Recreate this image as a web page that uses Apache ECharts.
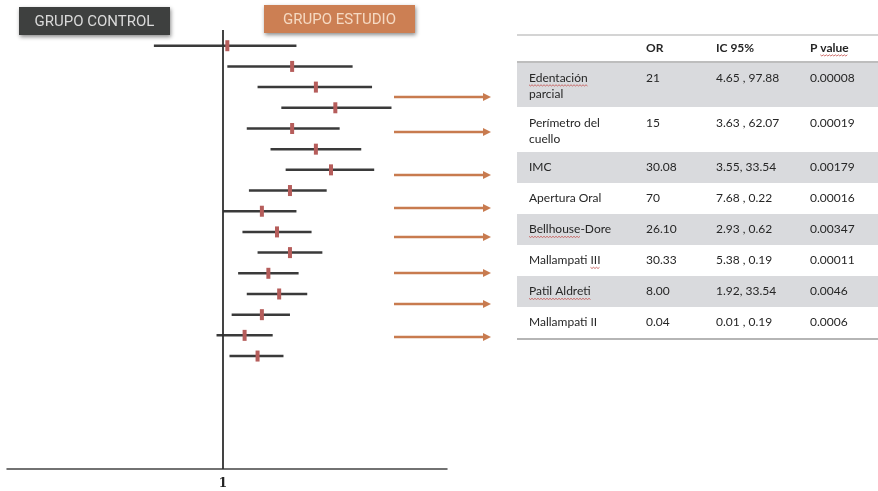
<!DOCTYPE html>
<html>
<head>
<meta charset="utf-8">
<script src="https://cdn.jsdelivr.net/npm/echarts@6/dist/echarts.min.js"></script>
<style>
html, body { margin: 0; padding: 0; background: #fff; }
#chart { width: 878px; height: 491px; }
</style>
</head>
<body>
<div id="chart"></div>
<script>
// forest plot, filas de arriba a abajo (1 = sin efecto)
const rows = [1, 2, 3, 4, 5, 6, 7, 8, 9, 10, 11, 12, 13, 14, 15, 16]
const lowValues = [0.68, 1.02, 1.16, 1.27, 1.11, 1.22, 1.29, 1.12, 1.00, 1.09, 1.16, 1.07, 1.11, 1.04, 0.97, 1.03]
const midValues = [1.02, 1.32, 1.43, 1.52, 1.32, 1.43, 1.50, 1.31, 1.18, 1.25, 1.31, 1.21, 1.26, 1.18, 1.10, 1.16]
const highValues = [1.34, 1.60, 1.69, 1.78, 1.54, 1.64, 1.70, 1.48, 1.34, 1.41, 1.46, 1.35, 1.39, 1.31, 1.23, 1.28]
const xTicks = [1]

// tabla
const tableHeader = ['', 'OR', 'IC 95%', 'P value']
const tableLabels = [['Edentación', 'parcial'], ['Perímetro del', 'cuello'], ['IMC'], ['Apertura Oral'],
  ['Bellhouse-Dore'], ['Mallampati III'], ['Patil Aldreti'], ['Mallampati II']]
const orValues = ['21', '15', '30.08', '70', '26.10', '30.33', '8.00', '0.04']
const ciValues = ['4.65 , 97.88', '3.63 , 62.07', '3.55, 33.54', '7.68 , 0.22', '2.93 , 0.62', '5.38 , 0.19', '1.92, 33.54', '0.01 , 0.19']
const pValues = ['0.00008', '0.00019', '0.00179', '0.00016', '0.00347', '0.00011', '0.0046', '0.0006']

const chart = echarts.init(document.getElementById('chart'))
const graphic = []
const measure = document.createElement('canvas').getContext('2d')

// botones de grupo
function button(x, y, w, h, fill, color, label) {
  graphic.push({
    type: 'rect',
    shape: { x: x, y: y, width: w, height: h },
    style: { fill: fill, shadowBlur: 4, shadowColor: 'rgba(0,0,0,0.45)', shadowOffsetX: 1, shadowOffsetY: 2 }
  })
  graphic.push({
    type: 'text',
    x: x + w / 2,
    y: y + h / 2 + 1,
    style: { text: label, fill: color, font: '15px Roboto', align: 'center', verticalAlign: 'middle' }
  })
}
button(19, 7, 151, 28, '#3e403f', '#dadada', 'GRUPO CONTROL')
button(264, 5, 151, 28, '#cc7f53', '#f5d9c2', 'GRUPO ESTUDIO')

// flechas
const arrowsY = [97, 132, 175, 208, 237, 273, 304, 337]
arrowsY.forEach(function (ay) {
  graphic.push({
    type: 'line',
    shape: { x1: 394, y1: ay, x2: 485, y2: ay },
    style: { stroke: '#c87b4f', lineWidth: 2.5 }
  })
  graphic.push({
    type: 'polygon',
    shape: { points: [[483, ay - 4], [491, ay], [483, ay + 4]] },
    style: { fill: '#c87b4f' }
  })
})

// subrayado ondulado del corrector, bajo la parte "word" de "text"
function squiggle(x0, ty, text, word, font) {
  measure.font = font
  const start = x0 + measure.measureText(text.slice(0, text.indexOf(word))).width
  const end = start + measure.measureText(word).width
  const pts = []
  for (let x = start, k = 0; x <= end; x += 1.5, k++) pts.push([x, ty + 7 + (k % 2 ? 1 : -0.2)])
  graphic.push({ type: 'polyline', shape: { points: pts }, style: { stroke: '#c4504c', lineWidth: 0.8 }, z: 5 })
}

// tabla
const colX = [529, 646, 716, 810]
const tableLeft = 517
const tableWidth = 361
const textStyle = '12px Lato'
graphic.push({ type: 'line', shape: { x1: tableLeft, y1: 35, x2: 878, y2: 35 }, style: { stroke: '#a9a9a9', lineWidth: 1 } })
tableHeader.forEach(function (t, c) {
  graphic.push({
    type: 'text', x: colX[c], y: 48,
    style: { text: t, fill: '#262626', font: 'bold 12px Lato', verticalAlign: 'middle' }
  })
})
squiggle(colX[3], 48, 'P value', 'value', 'bold 12px Lato')
const marked = { 'Edentación': 'Edentación', 'Bellhouse-Dore': 'Bellhouse', 'Mallampati III': 'III', 'Patil Aldreti': 'Patil Aldreti' }
let y = 62
tableLabels.forEach(function (lab, i) {
  const h = lab.length > 1 ? 45 : 31
  if (i % 2 === 0) {
    graphic.push({
      type: 'rect', shape: { x: tableLeft, y: y, width: tableWidth, height: h },
      style: { fill: '#d9dadd' }
    })
  }
  const firstY = lab.length > 1 ? y + 16 : y + h / 2
  lab.forEach(function (t, k) {
    graphic.push({
      type: 'text', x: colX[0], y: firstY + k * 16,
      style: { text: t, fill: '#262626', font: textStyle, verticalAlign: 'middle' }
    })
    if (marked[t]) squiggle(colX[0], firstY + k * 16, t, marked[t], textStyle)
  })
  ;[orValues[i], ciValues[i], pValues[i]].forEach(function (t, c) {
    graphic.push({
      type: 'text', x: colX[c + 1], y: firstY,
      style: { text: t, fill: '#262626', font: textStyle, verticalAlign: 'middle' }
    })
  })
  y += h
})
graphic.push({ type: 'line', shape: { x1: tableLeft, y1: 62, x2: 878, y2: 62 }, style: { stroke: '#bdbdbd', lineWidth: 2 } })
graphic.push({ type: 'line', shape: { x1: tableLeft, y1: y + 1, x2: 878, y2: y + 1 }, style: { stroke: '#b5b5b5', lineWidth: 2 } })

const option = {
  animation: false,
  grid: { left: 7, right: 431, top: 30, bottom: 22 },
  xAxis: {
    type: 'value',
    min: 0,
    max: 2.037,
    splitLine: { show: false },
    axisTick: { show: false },
    axisLine: { show: true, lineStyle: { color: '#444', width: 1.5 } },
    axisLabel: {
      customValues: xTicks,
      margin: 9,
      color: '#222',
      fontFamily: 'DejaVu Serif',
      fontWeight: 'bold',
      fontSize: 12
    }
  },
  yAxis: {
    type: 'value',
    inverse: true,
    min: 0.24,
    max: 21.46,
    show: false
  },
  graphic: graphic,
  series: [
    {
      type: 'custom',
      renderItem: function (params, api) {
        const row = api.value(0)
        const p1 = api.coord([api.value(1), row])
        const p2 = api.coord([api.value(3), row])
        const pm = api.coord([api.value(2), row])
        return {
          type: 'group',
          children: [
            { type: 'line', shape: { x1: p1[0], y1: p1[1], x2: p2[0], y2: p2[1] }, style: { stroke: '#3a3a3a', lineWidth: 2.5 } },
            { type: 'rect', shape: { x: pm[0] - 2, y: pm[1] - 5.5, width: 4, height: 11 }, style: { fill: '#b65d5b' } }
          ]
        }
      },
      encode: { x: [1, 2, 3], y: 0 },
      data: rows.map(function (r, i) { return [r, lowValues[i], midValues[i], highValues[i]] })
    },
    {
      // linea de no efecto
      type: 'line',
      data: [],
      markLine: {
        silent: true,
        symbol: 'none',
        label: { show: false },
        lineStyle: { color: '#2f2f2f', width: 1.8, type: 'solid' },
        data: [{ xAxis: 1 }]
      }
    }
  ]
}
chart.setOption(option)
</script>
</body>
</html>
